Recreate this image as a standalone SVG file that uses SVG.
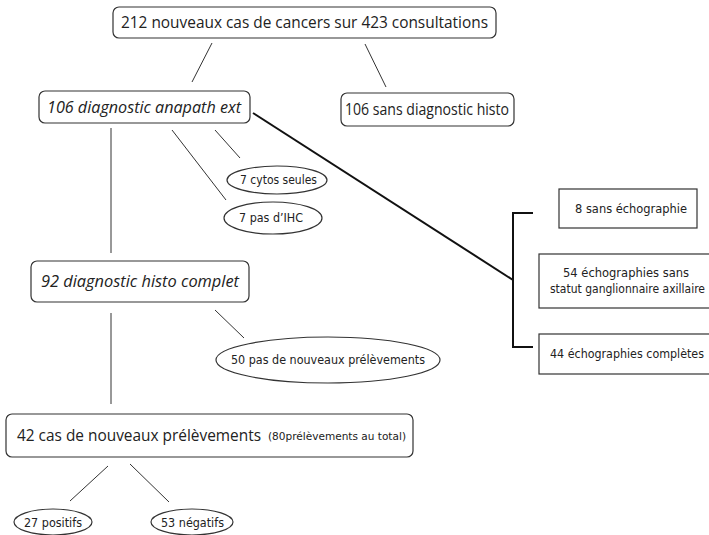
<svg xmlns="http://www.w3.org/2000/svg" width="709" height="535" viewBox="0 0 709 535">
<style>
.bg{fill:#fff}
.rb{fill:#fff;stroke:#333;stroke-width:1.2}
.sb{fill:#fff;stroke:#333;stroke-width:1.2}
.el{fill:#fff;stroke:#333;stroke-width:1.2}
.ln{stroke:#333;stroke-width:1;fill:none}
.tk{stroke:#111;stroke-width:2;fill:none}
.big{font-family:"Open Sans","Liberation Sans",sans-serif;font-size:16.5px;fill:#222}
.it{font-style:italic}
.sm{font-family:"DejaVu Sans","Liberation Sans",sans-serif;font-size:12px;fill:#222}
.xs{font-family:"DejaVu Sans","Liberation Sans",sans-serif;font-size:11px;fill:#222}
</style>
<rect class="bg" x="0" y="0" width="709" height="535"/>
<g id="connectors">
<line class="ln" x1="212" y1="43" x2="192" y2="82"/>
<line class="ln" x1="365" y1="44" x2="386" y2="87"/>
<line class="ln" x1="111" y1="128" x2="111" y2="253"/>
<line class="ln" x1="172" y1="130" x2="226" y2="200"/>
<line class="ln" x1="215" y1="130" x2="240" y2="158"/>
<line class="tk" x1="253" y1="113" x2="513" y2="280"/>
<path class="tk" d="M533,213 H513 V347 H533"/>
<line class="ln" x1="111" y1="313" x2="111" y2="404"/>
<line class="ln" x1="215" y1="310" x2="244" y2="338"/>
<line class="ln" x1="108" y1="466" x2="70" y2="501"/>
<line class="ln" x1="130" y1="464" x2="169" y2="502"/>
</g>
<g id="n_top">
<rect class="rb" x="113" y="7" width="383" height="31" rx="6"/>
<text class="big" x="121" y="28" textLength="367" lengthAdjust="spacingAndGlyphs">212 nouveaux cas de cancers sur 423 consultations</text>
</g>
<g id="n_anapath">
<rect class="rb" x="39" y="91" width="211" height="32" rx="6"/>
<text class="big it" x="47" y="113" textLength="194" lengthAdjust="spacingAndGlyphs">106 diagnostic anapath ext</text>
</g>
<g id="n_sans_histo">
<rect class="rb" x="341" y="93" width="173" height="33" rx="6"/>
<text class="big" x="345" y="115" textLength="164" lengthAdjust="spacingAndGlyphs">106 sans diagnostic histo</text>
</g>
<g id="n_cytos">
<ellipse class="el" cx="277" cy="180" rx="50" ry="14"/>
<text class="sm" x="240" y="184" textLength="77" lengthAdjust="spacingAndGlyphs">7 cytos seules</text>
</g>
<g id="n_ihc">
<ellipse class="el" cx="273" cy="218" rx="49" ry="16"/>
<text class="sm" x="239" y="222" textLength="64" lengthAdjust="spacingAndGlyphs">7 pas d’IHC</text>
</g>
<g id="n_histo_complet">
<rect class="rb" x="31" y="261" width="218" height="41" rx="6"/>
<text class="big it" x="41" y="287" textLength="198" lengthAdjust="spacingAndGlyphs">92 diagnostic histo complet</text>
</g>
<g id="n_pas_nouveaux">
<ellipse class="el" cx="328" cy="360" rx="112" ry="23"/>
<text class="sm" x="231" y="364" textLength="194" lengthAdjust="spacingAndGlyphs">50 pas de nouveaux prélèvements</text>
</g>
<g id="n_nouveaux">
<rect class="rb" x="6" y="414" width="407" height="43" rx="6"/>
<text class="big" x="17" y="441" textLength="244" lengthAdjust="spacingAndGlyphs">42 cas de nouveaux prélèvements</text>
<text class="xs" x="268" y="440" textLength="138" lengthAdjust="spacingAndGlyphs">(80prélèvements au total)</text>
</g>
<g id="n_positifs">
<ellipse class="el" cx="53" cy="522" rx="39" ry="13"/>
<text class="sm" x="24" y="527" textLength="58" lengthAdjust="spacingAndGlyphs">27 positifs</text>
</g>
<g id="n_negatifs">
<ellipse class="el" cx="192" cy="522" rx="41" ry="13"/>
<text class="sm" x="161" y="527" textLength="63" lengthAdjust="spacingAndGlyphs">53 négatifs</text>
</g>
<g id="n_sans_echo">
<rect class="sb" x="559" y="189" width="138" height="39"/>
<text class="sm" x="575" y="213" textLength="112" lengthAdjust="spacingAndGlyphs">8 sans échographie</text>
</g>
<g id="n_echo_sans_statut">
<rect class="sb" x="539" y="254" width="175" height="54"/>
<text class="sm" x="563" y="277" textLength="126" lengthAdjust="spacingAndGlyphs">54 échographies sans</text>
<text class="sm" x="550" y="293" textLength="155" lengthAdjust="spacingAndGlyphs">statut ganglionnaire axillaire</text>
</g>
<g id="n_echo_completes">
<rect class="sb" x="539" y="334" width="175" height="40"/>
<text class="sm" x="550" y="358" textLength="154" lengthAdjust="spacingAndGlyphs">44 échographies complètes</text>
</g>
</svg>
